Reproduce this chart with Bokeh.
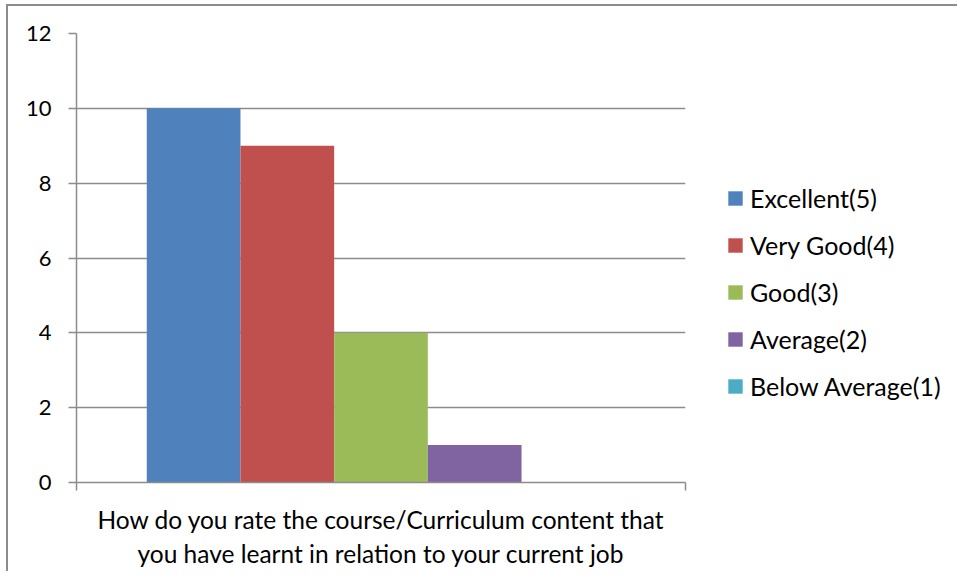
from bokeh.plotting import figure
from bokeh.models import Range1d, FixedTicker, Legend, LegendItem
from bokeh.embed import file_html
from bokeh.resources import INLINE

# ---- data ----
question = ["How do you rate the course/Curriculum content that\nyou have learnt in relation to your current job"]
series = ["Excellent(5)", "Very Good(4)", "Good(3)", "Average(2)", "Below Average(1)"]
values = [10, 9, 4, 1, 0]
colors = ["#4F81BD", "#C0504D", "#9BBB59", "#8064A2", "#4BACC6"]
y_ticks = [0, 2, 4, 6, 8, 10, 12]

FONT = "Lato"
GRAY = "#8c8c8c"
GAP = 1.5  # Excel gap width 150%
n = len(series)
group_width = n + GAP

p = figure(frame_width=609, frame_height=449, output_backend="svg", toolbar_location=None,
           x_range=Range1d(0, group_width), y_range=Range1d(0, 12),
           min_border_left=68, min_border_right=262, min_border_top=27, min_border_bottom=88)
p.styles = {"margin-left": "6px", "margin-top": "4px",
            "border-left": "2px solid #8c8c8c", "border-top": "2px solid #8c8c8c"}
p.outline_line_color = None
p.background_fill_color = "white"
p.border_fill_color = "white"

renderers = []
for i, (s, v, c) in enumerate(zip(series, values, colors)):
    r = p.vbar(x=[GAP / 2 + 0.5 + i], top=[v], bottom=0, width=1.0,
               fill_color=c, line_color=None)
    renderers.append(r)

# grid
p.xgrid.visible = False
p.ygrid.ticker = FixedTicker(ticks=y_ticks)
p.ygrid.grid_line_color = GRAY
p.ygrid.grid_line_width = 1.5

# y axis
ya = p.yaxis[0]
ya.ticker = FixedTicker(ticks=y_ticks)
ya.axis_line_color = GRAY
ya.axis_line_width = 1.5
ya.major_tick_line_color = GRAY
ya.major_tick_line_width = 1.5
ya.major_tick_in = 0
ya.major_tick_out = 8
ya.minor_tick_line_color = None
ya.major_label_standoff = 17
ya.major_label_text_font = FONT
ya.major_label_text_font_size = "22px"
ya.major_label_text_color = "black"

# x axis
xa = p.xaxis[0]
xa.ticker = FixedTicker(ticks=[group_width / 2], minor_ticks=[0, group_width])
xa.major_label_overrides = {group_width / 2: question[0]}
xa.axis_line_color = GRAY
xa.axis_line_width = 1.5
xa.major_tick_line_color = None
xa.major_tick_in = 0
xa.major_tick_out = 0
xa.minor_tick_line_color = GRAY
xa.minor_tick_line_width = 1.5
xa.minor_tick_in = 0
xa.minor_tick_out = 8
xa.major_label_standoff = 14
xa.major_label_text_font = FONT
xa.major_label_text_font_size = "24.5px"
xa.major_label_text_color = "black"

legend = Legend(items=[LegendItem(label=s, renderers=[r]) for s, r in zip(series, renderers)],
                location=(41, 81), orientation="vertical",
                padding=0, margin=0, spacing=17,
                glyph_width=18, glyph_height=18, label_height=26,
                label_standoff=6,
                label_text_font=FONT, label_text_font_size="25px",
                label_text_color="black",
                border_line_color=None, background_fill_alpha=0)
p.add_layout(legend, "right")

open("out.html", "w").write(file_html(p, INLINE))
